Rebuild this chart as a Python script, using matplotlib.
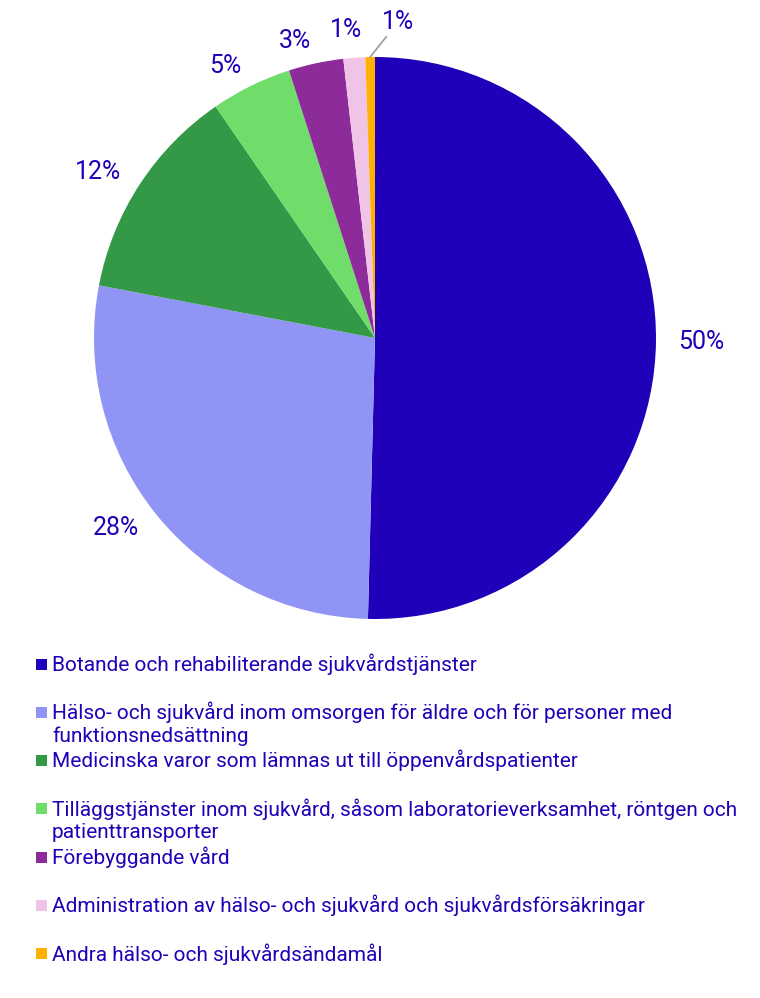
import matplotlib
matplotlib.use("Agg")
import matplotlib.pyplot as plt
from matplotlib.patches import Rectangle
import numpy as np

plt.rcParams['font.family'] = ['Roboto', 'DejaVu Sans']

categories = [
    "Botande och rehabiliterande sjukvårdstjänster",
    "Hälso- och sjukvård inom omsorgen för äldre och för personer med\nfunktionsnedsättning",
    "Medicinska varor som lämnas ut till öppenvårdspatienter",
    "Tilläggstjänster inom sjukvård, såsom laboratorieverksamhet, röntgen och\npatienttransporter",
    "Förebyggande vård",
    "Administration av hälso- och sjukvård och sjukvårdsförsäkringar",
    "Andra hälso- och sjukvårdsändamål",
]
values = [50.4, 27.6, 12.4, 4.65, 3.15, 1.25, 0.55]
colors = ["#2000b8", "#8f94f5", "#339946", "#70dd6a", "#8e2b9a", "#f0c4e6", "#ffb000"]
text_color = "#2200b8"

W, H = 760, 998
fig = plt.figure(figsize=(W / 100, H / 100), dpi=100)

cx, cy, R = 375, 338, 281
ax = fig.add_axes([(cx - R) / W, (H - cy - R) / H, 2 * R / W, 2 * R / H])
wedges, _ = ax.pie(values, colors=colors, startangle=90, counterclock=False,
                   radius=1.0, wedgeprops=dict(linewidth=0))
ax.set_xlim(-1, 1)
ax.set_ylim(-1, 1)
ax.set_aspect('equal')
ax.axis('off')

lab_fs = 18
n = len(values)
for i, (w, v) in enumerate(zip(wedges, values)):
    mid = np.deg2rad((w.theta1 + w.theta2) / 2)
    txt = f"{v:.0f}%"
    if i == n - 1:
        ex, ey = np.cos(mid), np.sin(mid)
        ax.annotate(txt, xy=(ex, ey), xytext=(0.025, 1.125),
                    ha='left', va='center', fontsize=lab_fs, color=text_color,
                    arrowprops=dict(arrowstyle='-', color='#999999', lw=1.2,
                                    shrinkA=0, shrinkB=0),
                    annotation_clip=False)
        continue
    d = 1.08
    x, y = d * np.cos(mid), d * np.sin(mid)
    if i == n - 2:
        x, y = 1.085 * np.cos(mid) + 0.035, 1.085 * np.sin(mid) + 0.015
    ha = 'left' if np.cos(mid) > 0.001 else 'right'
    ax.text(x, y, txt, ha=ha, va='center', fontsize=lab_fs, color=text_color,
            clip_on=False)

# Legend
leg_y0 = 664
leg_dy = 48.3
leg_fs = 15
for i, (c, lab) in enumerate(zip(colors, categories)):
    yc = leg_y0 + i * leg_dy
    fig.patches.append(Rectangle((36 / W, (H - yc - 5.5) / H), 11 / W, 11 / H,
                                 transform=fig.transFigure, facecolor=c,
                                 edgecolor='none'))
    for j, ln in enumerate(lab.split('\n')):
        fig.text(52 / W, (H - yc - j * 24) / H, ln, ha='left', va='center',
                 fontsize=leg_fs, color=text_color)

fig.savefig("out.png", dpi=100, facecolor='white')
